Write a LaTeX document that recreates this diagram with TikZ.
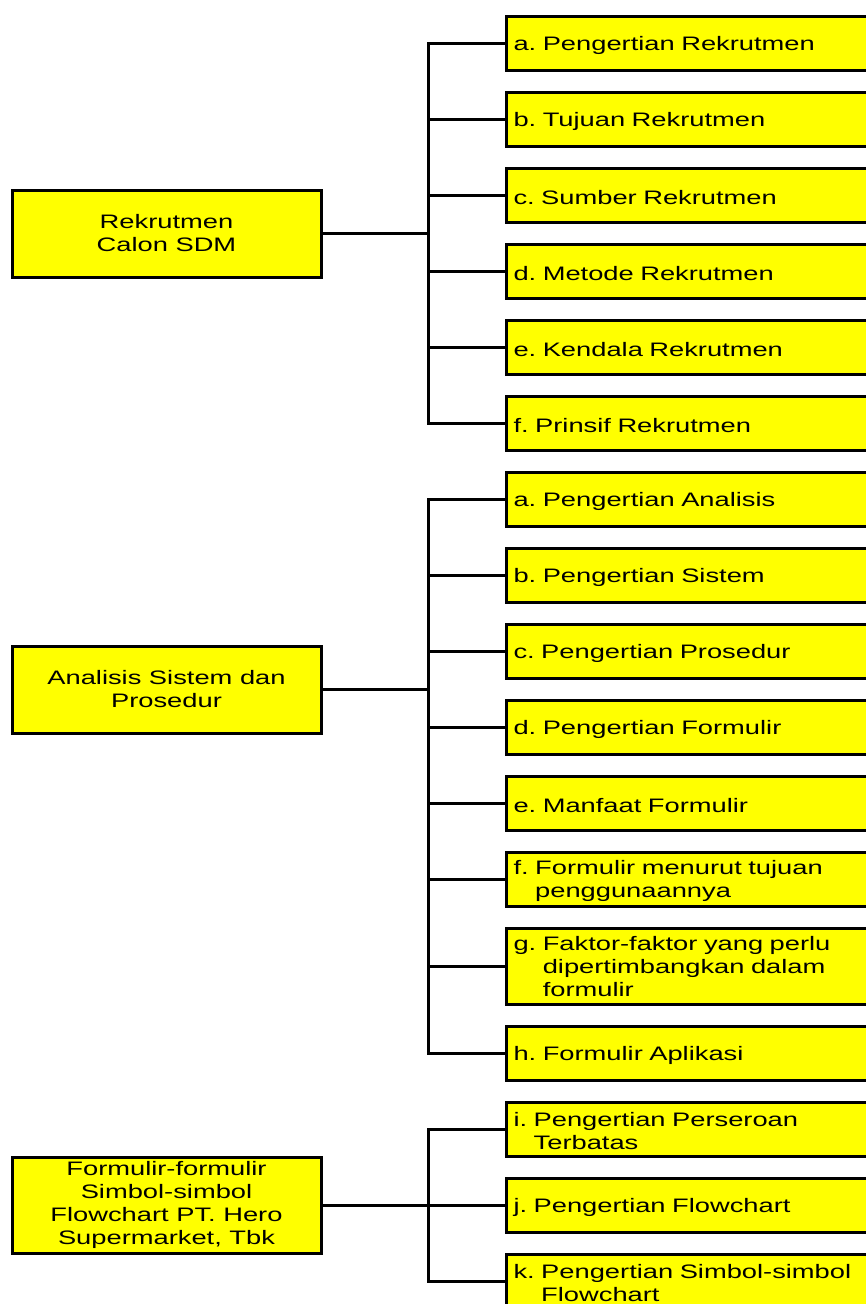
\documentclass[tikz,border=0pt]{standalone}
\usepackage{fontspec}
\setmainfont{Liberation Sans}[FakeStretch=1.4]
\definecolor{boxyellow}{RGB}{255,255,0}
\begin{document}
\frenchspacing
\begin{tikzpicture}[x=1pt,y=-1pt,
  box/.style={draw=black, line width=3pt, fill=boxyellow, inner sep=0pt,
    font=\fontsize{19.5}{23}\selectfont\frenchspacing},
  topic/.style={box, minimum width=309pt, align=center},
  item/.style={box, anchor=west, minimum height=54pt, text width=386pt,
    inner xsep=7pt, align=left, execute at begin node={\rule{0pt}{18.5pt}}},
  link/.style={line width=3pt, line join=miter}
]
\useasboundingbox (0,0) rectangle (866,1304);
\clip (0,0) rectangle (866,1304);

% ---- group 1 ----
\node[topic, minimum height=87pt] (m1) at (166.5,233.5) {Rekrutmen\\Calon SDM};
\coordinate (t1) at (428,233.5);
\node[item] (a1) at (505,43)  {a. Pengertian Rekrutmen};
\node[item] (b1) at (505,119) {b. Tujuan Rekrutmen};
\node[item] (c1) at (505,195) {c. Sumber Rekrutmen};
\node[item] (d1) at (505,271) {d. Metode Rekrutmen};
\node[item] (e1) at (505,347) {e. Kendala Rekrutmen};
\node[item] (f1) at (505,423) {f. Prinsif Rekrutmen};
\draw[link] (m1.east) -- (t1);
\foreach \n in {a1,b1,c1,d1,e1,f1} \draw[link] (t1) |- (\n.west);

% ---- group 2 ----
\node[topic, minimum height=87pt] (m2) at (166.5,689.5) {Analisis Sistem dan\\Prosedur};
\coordinate (t2) at (428,689.5);
\node[item] (a2) at (505,499)  {a. Pengertian Analisis};
\node[item] (b2) at (505,575)  {b. Pengertian Sistem};
\node[item] (c2) at (505,651)  {c. Pengertian Prosedur};
\node[item] (d2) at (505,727)  {d. Pengertian Formulir};
\node[item] (e2) at (505,803)  {e. Manfaat Formulir};
\node[item] (f2) at (505,879)  {f. Formulir menurut tujuan\\\phantom{f.~}penggunaannya};
\node[item, minimum height=76pt] (g2) at (505,966)
  {g. Faktor-faktor yang perlu\\\phantom{g.~}dipertimbangkan dalam\\\phantom{g.~}formulir};
\node[item] (h2) at (505,1053) {h. Formulir Aplikasi};
\draw[link] (m2.east) -- (t2);
\foreach \n in {a2,b2,c2,d2,e2,f2,g2,h2} \draw[link] (t2) |- (\n.west);

% ---- group 3 ----
\node[topic, minimum height=96pt] (m3) at (166.5,1205)
  {Formulir-formulir\\Simbol-simbol\\Flowchart PT. Hero\\Supermarket, Tbk};
\coordinate (t3) at (428,1205);
\node[item] (i3) at (505,1129) {i. Pengertian Perseroan\\\phantom{i.~}Terbatas};
\node[item] (j3) at (505,1205) {j. Pengertian Flowchart};
\node[item] (k3) at (505,1281) {k. Pengertian Simbol-simbol\\\phantom{k.~}Flowchart};
\draw[link] (m3.east) -- (t3);
\foreach \n in {i3,j3,k3} \draw[link] (t3) |- (\n.west);
\end{tikzpicture}
\end{document}
